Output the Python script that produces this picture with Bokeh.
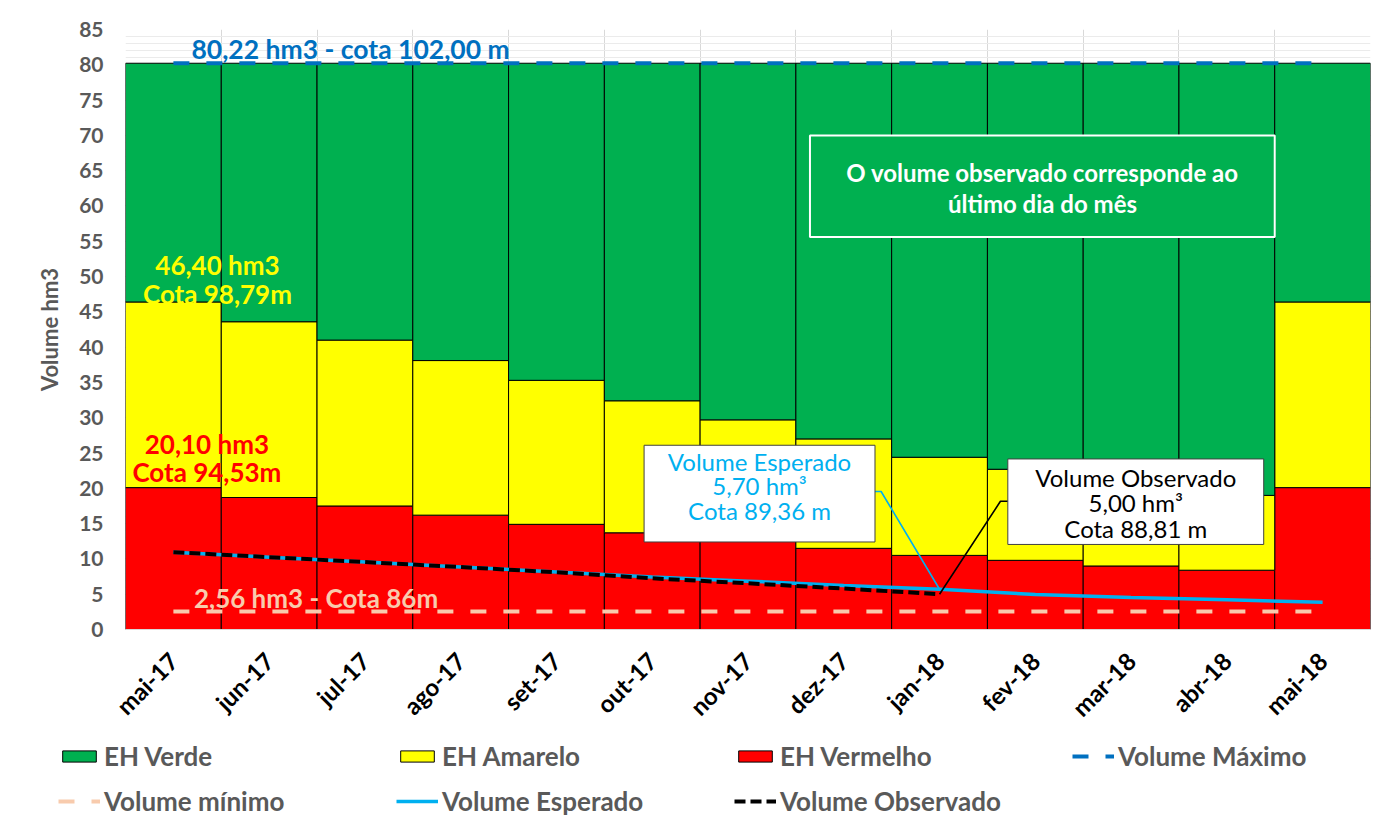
import math
from bokeh.plotting import figure
from bokeh.models import Range1d, FixedTicker, Legend, LegendItem, Label, BoxAnnotation
from bokeh.embed import file_html
from bokeh.resources import INLINE

# ---------------- data ----------------
meses = ["mai-17", "jun-17", "jul-17", "ago-17", "set-17", "out-17", "nov-17",
         "dez-17", "jan-18", "fev-18", "mar-18", "abr-18", "mai-18"]
eh_vermelho_topo = [20.1, 18.7, 17.5, 16.2, 14.9, 13.7, 12.6, 11.5, 10.5, 9.8, 9.0, 8.4, 20.1]
eh_amarelo_topo = [46.4, 43.6, 41.0, 38.1, 35.3, 32.4, 29.7, 27.0, 24.4, 22.7, 20.9, 19.0, 46.4]
volume_maximo = 80.22
volume_minimo = 2.56
volume_esperado = [10.95, 10.25, 9.55, 8.85, 8.15, 7.45, 6.85, 6.25, 5.70, 4.95, 4.55, 4.20, 3.85]
volume_observado = [10.95, 10.25, 9.55, 8.85, 8.10, 7.25, 6.55, 5.80, 5.00]
y_ticks = list(range(0, 86, 5))

FONT = "Lato"
GRAY = "#595959"
C_RED, C_YEL, C_GRN = "#FF0000", "#FFFF00", "#00B050"
C_MAX, C_MIN, C_ESP = "#0070C0", "#F8CBAD", "#00B0F0"
n = len(meses)
xs = list(range(n))

W = 1390
H_MAIN, H_LEG = 735, 83
p = figure(width=W, height=H_MAIN, x_range=Range1d(-0.5, n - 0.5), y_range=Range1d(0, 85),
           output_backend="svg", toolbar_location=None,
           min_border_left=125, min_border_right=W - 1370, min_border_top=29,
           min_border_bottom=H_MAIN - 637)
p.outline_line_color = None
p.background_fill_color = "white"
p.border_fill_color = "white"

# grids
p.ygrid.ticker = FixedTicker(ticks=y_ticks, minor_ticks=list(range(0, 86)))
p.ygrid.grid_line_color = "#d9d9d9"
p.ygrid.minor_grid_line_color = "#ebebeb"
p.xgrid.ticker = FixedTicker(ticks=[i - 0.5 for i in range(n + 1)])
p.xgrid.grid_line_color = "#d9d9d9"

# axes
p.yaxis.ticker = FixedTicker(ticks=y_ticks)
p.yaxis.axis_label = "Volume hm3"
p.yaxis.axis_label_text_font = FONT
p.yaxis.axis_label_text_font_style = "bold"
p.yaxis.axis_label_text_font_size = "22px"
p.yaxis.axis_label_text_color = GRAY
p.yaxis.axis_label_standoff = 13
p.yaxis.major_label_text_font = FONT
p.yaxis.major_label_text_font_style = "bold"
p.yaxis.major_label_text_font_size = "21px"
p.yaxis.major_label_text_color = GRAY
p.yaxis.major_label_standoff = 16
p.yaxis.axis_line_color = None
p.yaxis.major_tick_line_color = None
p.yaxis.minor_tick_line_color = None

p.xaxis.ticker = FixedTicker(ticks=xs)
p.xaxis.major_label_overrides = {i: m for i, m in enumerate(meses)}
p.xaxis.major_label_orientation = math.pi / 4
p.xaxis.major_label_text_font = FONT
p.xaxis.major_label_text_font_style = "bold"
p.xaxis.major_label_text_font_size = "24px"
p.xaxis.major_label_text_color = "black"
p.xaxis.major_label_standoff = 21
p.xaxis.axis_line_color = "#d9d9d9"
p.xaxis.major_tick_line_color = None
p.xaxis.minor_tick_line_color = None

# styles
RED_STYLE = dict(fill_color=C_RED, line_color="black", line_width=1)
YEL_STYLE = dict(fill_color=C_YEL, line_color="black", line_width=1)
GRN_STYLE = dict(fill_color=C_GRN, line_color="black", line_width=1)
MIN_STYLE = dict(line_color=C_MIN, line_width=4, line_dash="16 17")
MAX_STYLE = dict(line_color=C_MAX, line_width=4, line_dash="16 17")
ESP_STYLE = dict(line_color=C_ESP, line_width=3.5)
OBS_STYLE = dict(line_color="black", line_width=4, line_dash="11 5")

# stacked bars
p.vbar(x=xs, width=1, bottom=0, top=eh_vermelho_topo, **RED_STYLE)
p.vbar(x=xs, width=1, bottom=eh_vermelho_topo, top=eh_amarelo_topo, **YEL_STYLE)
p.vbar(x=xs, width=1, bottom=eh_amarelo_topo, top=[volume_maximo] * n, **GRN_STYLE)

# lines
p.line(xs, [volume_minimo] * n, **MIN_STYLE)
p.line(xs, [volume_maximo] * n, **MAX_STYLE)
p.line(xs, volume_esperado, **ESP_STYLE)
p.line(xs[:len(volume_observado)], volume_observado, **OBS_STYLE)

# callout lines
j = len(volume_observado) - 1
esp_box = dict(left=j - 3.085, right=j - 0.674, bottom=12.4, top=26.1)
obs_box = dict(left=j + 0.713, right=j + 3.385, bottom=12.05, top=24.16)
p.line([esp_box["right"], j - 0.61, xs[j]], [19.55, 19.55, volume_esperado[j]],
       line_color=C_ESP, line_width=1.6)
p.line([obs_box["left"], j + 0.636, xs[j]], [18.16, 18.16, volume_observado[j]],
       line_color="black", line_width=1.6)

# boxes
p.add_layout(BoxAnnotation(**esp_box, fill_color="white", fill_alpha=1,
                           line_color="#404040", line_width=1, line_alpha=1))
p.add_layout(BoxAnnotation(**obs_box, fill_color="white", fill_alpha=1,
                           line_color="#404040", line_width=1, line_alpha=1))
p.add_layout(BoxAnnotation(left=6.647, right=11.5, bottom=55.6, top=69.97,
                           fill_color=C_GRN, fill_alpha=1,
                           line_color="white", line_width=2, line_alpha=1))


def lab(x, y, text, color, size, style="bold"):
    p.add_layout(Label(x=x, y=y, text=text, text_align="center", text_baseline="middle",
                       text_font=FONT, text_font_style=style, text_font_size=size,
                       text_color=color))


lab(1.85, 82.2, "80,22 hm3 - cota 102,00 m", C_MAX, "26.5px")
lab(0.46, 51.7, "46,40 hm3", C_YEL, "26px")
lab(0.46, 47.6, "Cota 98,79m", C_YEL, "26px")
lab(0.35, 26.3, "20,10 hm3", C_RED, "26px")
lab(0.35, 22.35, "Cota 94,53m", C_RED, "26px")
lab(1.49, 4.5, "2,56 hm3 - Cota 86m", C_MIN, "26px")
ecx = (esp_box["left"] + esp_box["right"]) / 2
lab(ecx, 23.8, "Volume Esperado", C_ESP, "24px", "normal")
lab(ecx, 20.4, "5,70 hm³", C_ESP, "24px", "normal")
lab(ecx, 16.8, "Cota 89,36 m", C_ESP, "24px", "normal")
ocx = (obs_box["left"] + obs_box["right"]) / 2
lab(ocx, 21.5, "Volume Observado", "black", "24px", "normal")
lab(ocx, 18.0, "5,00 hm³", "black", "24px", "normal")
lab(ocx, 14.25, "Cota 88,81 m", "black", "24px", "normal")
lab(9.075, 64.8, "O volume observado corresponde ao", "white", "24px")
lab(9.075, 60.3, "último dia do mês", "white", "24px")

# ---------------- legend strip (separate root, below the chart) ----------------
pl = figure(width=W, height=H_LEG, x_range=Range1d(-100, -99), y_range=Range1d(-100, -99),
            output_backend="svg", toolbar_location=None,
            x_axis_location=None, y_axis_location=None,
            min_border_left=0, min_border_right=0, min_border_top=0, min_border_bottom=0)
pl.grid.visible = False
pl.outline_line_color = None
pl.border_fill_color = "white"
pl.background_fill_color = "white"

# same series drawn outside the strip's visible range: only their legend swatches show
g_red = pl.vbar(x=xs, width=1, bottom=0, top=eh_vermelho_topo, **RED_STYLE)
g_yel = pl.vbar(x=xs, width=1, bottom=eh_vermelho_topo, top=eh_amarelo_topo, **YEL_STYLE)
g_grn = pl.vbar(x=xs, width=1, bottom=eh_amarelo_topo, top=[volume_maximo] * n, **GRN_STYLE)
g_min = pl.line(xs, [volume_minimo] * n, **MIN_STYLE)
g_max = pl.line(xs, [volume_maximo] * n, **MAX_STYLE)
g_esp = pl.line(xs, volume_esperado, **ESP_STYLE)
g_obs = pl.line(xs[:len(volume_observado)], volume_observado, **OBS_STYLE)

legend = Legend(items=[LegendItem(label="EH Verde", renderers=[g_grn]),
                       LegendItem(label="EH Amarelo", renderers=[g_yel]),
                       LegendItem(label="EH Vermelho", renderers=[g_red]),
                       LegendItem(label="Volume Máximo", renderers=[g_max]),
                       LegendItem(label="Volume mínimo", renderers=[g_min]),
                       LegendItem(label="Volume Esperado", renderers=[g_esp]),
                       LegendItem(label="Volume Observado", renderers=[g_obs])],
                orientation="horizontal", ncols=4, location=(58, 1),
                glyph_width=42, glyph_height=14, label_standoff=4,
                label_width=279, spacing=13, padding=0, margin=0,
                border_line_color=None, background_fill_alpha=0,
                label_text_font=FONT, label_text_font_style="bold",
                label_text_font_size="26px", label_text_color=GRAY)
pl.add_layout(legend)

open("out.html", "w").write(file_html([p, pl], INLINE))
